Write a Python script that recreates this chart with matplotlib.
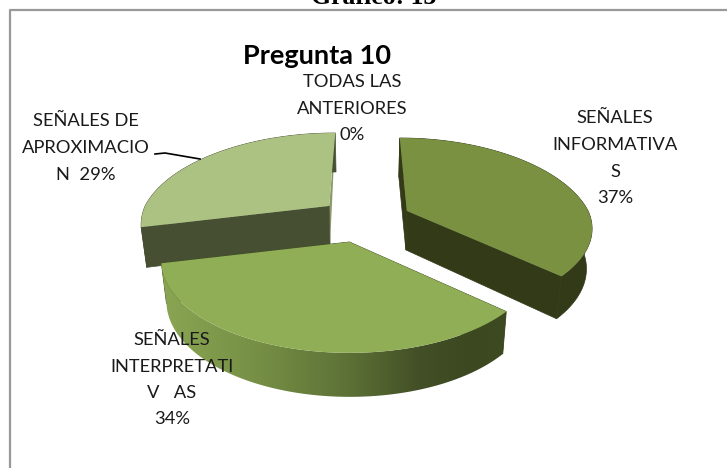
import numpy as np
import matplotlib
matplotlib.use("Agg")
import matplotlib.pyplot as plt
from matplotlib.patches import Polygon
from matplotlib.colors import LinearSegmentedColormap

categorias = ["SEÑALES INFORMATIVAS", "SEÑALES INTERPRETATIVAS", "SEÑALES DE APROXIMACION", "TODAS LAS ANTERIORES"]
porcentajes = [36.9, 34.4, 28.7, 0]
color_arriba = ["#7a9142", "#8fae55", "#abc283", "#8fae55"]
color_corte = ["#323a18", "#3d4a22", "#474f33", "#3d4a22"]
color_corte_fin = ["#323a18", "#3d4a22", "#8a9a6a", "#3d4a22"]
color_corte_ini = ["#323a18", "#3d4a22", "#8a9a6a", "#3d4a22"]
color_lado = ["#323a18", None, "#474f33", "#3d4a22"]
etiquetas = [
    ["SEÑALES", "INFORMATIVA", "S", "37%"],
    ["SEÑALES", "INTERPRETATI", "V   AS", "34%"],
    ["SEÑALES DE", "APROXIMACIO", "N  29%"],
    ["TODAS LAS", "ANTERIORES", "0%"],
]
pos_etiquetas = [(615, [118, 145, 172, 198]), (172, [340, 367, 393, 419]),
                 (86, [121, 148, 175]), (352, [82, 109, 135])]

# pie seen in perspective, everything in pixels of the picture
cx, cy = 365, 220
a, b, k = 184, 88, 0.2065
sep_x, sep_y = 45.7, 22.7
# small per slice corrections of the projection
ajuste_a = [0.985, 1.0, 1, 1]
ajuste_b = [0.94, 1, 1, 1]
ajuste_x = [0, -4, 0, 0]


def punto(theta, x0, y0, fa, fb):
    u, v = np.sin(theta), np.cos(theta)
    s = 1 / (1 + k * v)
    # the back of the pie pulls towards the middle
    x_base = cx + (x0 - cx) * np.minimum(s, 1)
    fy = np.where(v < 0, fb, 1)
    return x_base + a * fa * u * s, y0 - b * fy * v * s


def abajo(x, y, theta):
    prof = 39 + 5 * np.maximum(-np.cos(theta), 0)
    return cx + (x - cx) * 0.975, y + prof


fig = plt.figure(figsize=(7.27, 4.68), dpi=100)
ax = fig.add_axes([0, 0, 1, 1])
ax.set_xlim(0, 727)
ax.set_ylim(468, 0)
ax.axis("off")

plt.rcParams["font.family"] = ["Lato", "DejaVu Sans"]

# frame, only top and left are inside the crop
ax.plot([9.5, 9.5, 727], [468, 9.5, 9.5], color="#999999", lw=1.6, zorder=1)

ax.text(374, 3.5, "Gráfico: 13", family="Liberation Serif", fontweight="bold",
        fontsize=18.5, ha="center", va="baseline", color="black")

fracs = np.array(porcentajes) / sum(porcentajes)
inicios = np.concatenate([[0], np.cumsum(fracs)[:-1]]) * 2 * np.pi
finales = np.cumsum(fracs) * 2 * np.pi

z = 2
for i in [2, 0, 1]:
    t0, t1 = inicios[i], finales[i]
    med = (t0 + t1) / 2
    x0 = cx + sep_x * np.sin(med) + ajuste_x[i]
    y0 = cy - sep_y * np.cos(med)
    th = np.linspace(t0, t1, 120)
    xs, ys = punto(th, x0, y0, ajuste_a[i], ajuste_b[i])
    xb, yb = abajo(xs, ys, th)
    xc, yc = abajo(np.array([x0]), np.array([y0]), np.array([np.pi / 2]))

    # radial cuts, the one at the back of the slice 29% is the thin light sliver
    if i == 2:
        ax.add_patch(Polygon([(xs[-1], ys[-1]), (x0, y0), (xc[0], yc[0])],
                             fc=color_corte_fin[i], ec="none", zorder=z))
        ax.add_patch(Polygon([(xs[0], ys[0]), (x0, y0), (xc[0], yc[0]), (xb[0], yb[0])],
                             fc=color_corte[i], ec=color_corte[i], lw=0.5, zorder=z))
    else:
        ax.add_patch(Polygon([(xs[0], ys[0]), (x0, y0), (xc[0], yc[0]), (xb[0], yb[0])],
                             fc=color_corte[i], ec=color_corte[i], lw=0.5, zorder=z))
        ax.add_patch(Polygon([(xs[-1], ys[-1]), (x0, y0), (xc[0], yc[0]), (xb[-1], yb[-1])],
                             fc=color_corte[i], ec=color_corte[i], lw=0.5, zorder=z))
    # outer wall
    pared = np.column_stack([np.concatenate([xs, xb[::-1]]), np.concatenate([ys, yb[::-1]])])
    if color_lado[i] is None:
        mapa = LinearSegmentedColormap.from_list("lado", [
            (0.0, "#8aa653"), (0.28, "#768f45"), (0.55, "#5c7036"),
            (0.75, "#434f26"), (0.9, "#3c4820"), (1.0, "#3d4a22")])
        clip = Polygon(pared, fc="none", ec="none", zorder=z + 1)
        ax.add_patch(clip)
        img = ax.imshow(np.linspace(0, 1, 256).reshape(1, -1), cmap=mapa, aspect="auto",
                        extent=[xs.min(), xs.max(), 420, 240], zorder=z + 1)
        img.set_clip_path(clip)
    else:
        ax.add_patch(Polygon(pared, fc=color_lado[i], ec=color_lado[i], lw=0.5, zorder=z + 1))
    # top
    arriba = np.column_stack([np.concatenate([[x0], xs]), np.concatenate([[y0], ys])])
    ax.add_patch(Polygon(arriba, fc=color_arriba[i], ec="none", zorder=z + 2))
    z += 3

ax.set_xlim(0, 727)
ax.set_ylim(468, 0)

ax.text(317, 56, "Pregunta 10", fontsize=19.5, fontweight="bold", ha="center", va="center",
        color="black", zorder=30)

for lineas, (xt, yts) in zip(etiquetas, pos_etiquetas):
    for linea, yt in zip(lineas, yts):
        ax.text(xt, yt, linea, fontsize=13.2, ha="center", va="center", color="#1a1a1a", zorder=30)

# leader line of the 29% label
ax.plot([155, 165, 200], [154, 153, 159], color="black", lw=1.2, zorder=30)

fig.savefig("out.png", dpi=100)
